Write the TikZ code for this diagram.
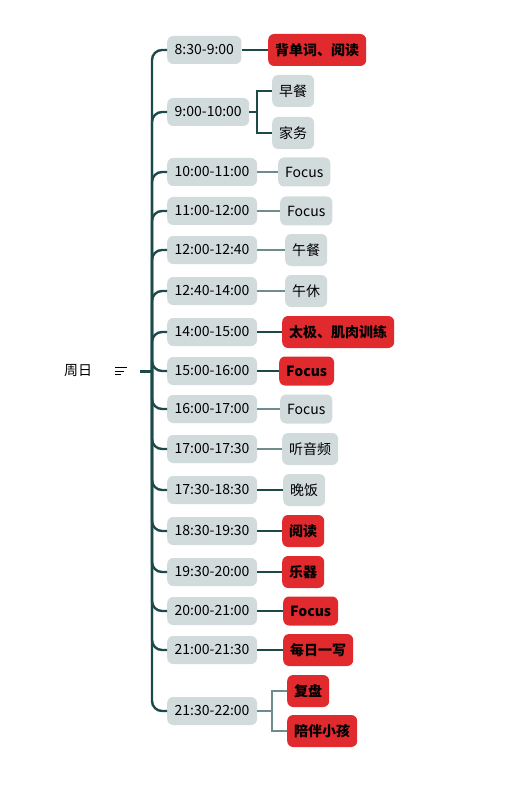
\documentclass[tikz,border=0pt]{standalone}
\usepackage{fontspec}
\setmainfont{Noto Sans CJK SC}
\usetikzlibrary{positioning}
\definecolor{slot}{HTML}{D1DBDB}
\definecolor{hot}{HTML}{E12A2E}
\definecolor{trunk}{HTML}{1C4A4A}
\definecolor{twig}{HTML}{6E8C8C}

\begin{document}
\begin{tikzpicture}[x=1pt,y=-1pt,font=\fontsize{14}{16}\selectfont,
    slotbox/.style={fill=slot,rounded corners=6pt,minimum height=28pt,inner xsep=7.5pt,anchor=west},
    leaf/.style={fill=slot,rounded corners=6pt,minimum height=32pt,inner xsep=7pt,anchor=west},
    leaflat/.style={leaf,minimum height=29pt},
    hotleaf/.style={leaf,fill=hot,font=\fontsize{14}{16}\selectfont\bfseries},
    spine/.style={draw=trunk,line width=2.4pt},
    link/.style={draw=trunk,line width=1.2pt},
    soft/.style={draw=twig,line width=1.4pt}]
      \useasboundingbox (0,0) rectangle (510,786);
      \node (root) at (78,371) {周日};
      \draw[line width=1pt] (115,367.5) -- (127,367.5) (115,371) -- (124,371) (115,374.5) -- (121,374.5);
      \coordinate (rootout) at (140,371);
      \coordinate (hub) at (152,371);
      \draw[spine,line width=3pt] (rootout) -- (hub);
      \foreach \y/\t [count=\i] in {50/8:30-9:00,112/9:00-10:00,172/10:00-11:00,211/11:00-12:00,
          250/12:00-12:40,291/12:40-14:00,332/14:00-15:00,371/15:00-16:00,409/16:00-17:00,
          449/17:00-17:30,490/17:30-18:30,531/18:30-19:30,572/19:30-20:00,611/20:00-21:00,
          650/21:00-21:30,711/21:30-22:00}{
        \node[slotbox] (t\i) at (167,\y) {\t};
        \draw[spine,rounded corners=10pt] (hub) |- (t\i.west);
      }
      \node[hotleaf] (a1) at (268,50) {背单词、阅读};
      \node[leaf] (a2) at (272,91) {早餐};
      \node[leaf] (b2) at (272,133) {家务};
      \node[leaflat] (a3) at (278,172) {Focus};
      \node[leaflat] (a4) at (280,211) {Focus};
      \node[leaf] (a5) at (285,250) {午餐};
      \node[leaf] (a6) at (285,291) {午休};
      \node[hotleaf] (a7) at (282,332) {太极、肌肉训练};
      \node[hotleaf,minimum height=29pt] (a8) at (279,371) {Focus};
      \node[leaflat] (a9) at (280,409) {Focus};
      \node[leaf] (a10) at (282,449) {听音频};
      \node[leaf] (a11) at (283,490) {晚饭};
      \node[hotleaf] (a12) at (282,531) {阅读};
      \node[hotleaf] (a13) at (282,572) {乐器};
      \node[hotleaf,minimum height=29pt] (a14) at (283,611) {Focus};
      \node[hotleaf] (a15) at (283,650) {每日一写};
      \node[hotleaf] (a16) at (287,691) {复盘};
      \node[hotleaf] (b16) at (287,731) {陪伴小孩};
      \coordinate (j2) at (257,112);
      \coordinate (j16) at (272,711);
      \draw[link] (t2) -- (j2) |- (a2);
      \draw[link] (j2) |- (b2);
      \draw[soft] (t16) -- (j16) |- (a16);
      \draw[soft] (j16) |- (b16);
      \foreach \i in {1,7,8,11,12,13,14,15} \draw[link] (t\i) -- (a\i);
      \foreach \i in {3,4,5,6,9,10} \draw[soft] (t\i) -- (a\i);
\end{tikzpicture}
\end{document}
